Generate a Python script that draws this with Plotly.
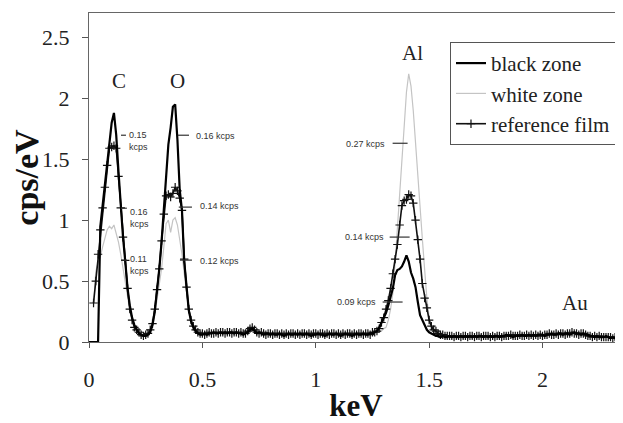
import numpy as np
import plotly.graph_objects as go

# Energy channels (keV), 0.01 keV per channel
energy_kev = np.round(np.arange(0, 237) * 0.01, 2)

black_zone = [
    0, 0, 0, 0, 0,
    0.95, 1.12, 1.30, 1.50, 1.68, 1.80, 1.88, 1.70, 1.40, 1.10,
    0.86, 0.66, 0.44, 0.30, 0.20, 0.14, 0.10, 0.07, 0.06, 0.05,
    0.05, 0.06, 0.08, 0.14, 0.25, 0.42, 0.60, 0.82, 1.08, 1.30,
    1.62, 1.76, 1.93, 1.95, 1.66, 1.25, 1.08, 0.66, 0.43, 0.26,
    0.17, 0.12, 0.09, 0.07, 0.06,
    0.06, 0.07, 0.06, 0.07, 0.07, 0.08, 0.07, 0.07, 0.08, 0.07,
    0.08, 0.07, 0.08, 0.08, 0.07, 0.08, 0.07, 0.07, 0.06, 0.07,
    0.08, 0.10, 0.11, 0.09, 0.07, 0.08, 0.07, 0.06, 0.07, 0.07,
    0.06, 0.07, 0.06, 0.06, 0.07, 0.06, 0.05, 0.06, 0.07, 0.06,
    0.06, 0.07, 0.06, 0.07, 0.06, 0.06, 0.07, 0.06, 0.05, 0.06,
    0.06, 0.07, 0.06, 0.06, 0.05, 0.06, 0.07, 0.06, 0.06, 0.07,
    0.06, 0.05, 0.06, 0.07, 0.06, 0.06, 0.05, 0.06, 0.07, 0.06,
    0.06, 0.07, 0.06, 0.06, 0.07, 0.07, 0.08,
    0.09, 0.12, 0.16, 0.20, 0.24, 0.30, 0.38, 0.44, 0.55, 0.59,
    0.60, 0.62, 0.66, 0.71, 0.66, 0.57, 0.52, 0.45, 0.33, 0.22,
    0.18, 0.14, 0.10, 0.08, 0.07, 0.06, 0.05,
    0.05, 0.04, 0.05, 0.04, 0.04, 0.05,
    0.04, 0.05, 0.04, 0.04, 0.05, 0.04, 0.05, 0.04, 0.05, 0.04,
    0.05, 0.04, 0.05, 0.05, 0.04, 0.05, 0.04, 0.05, 0.04, 0.05,
    0.05, 0.04, 0.05, 0.05, 0.06, 0.05, 0.05, 0.04, 0.05, 0.05,
    0.05, 0.06, 0.05, 0.05, 0.06, 0.05, 0.06, 0.05, 0.06, 0.06,
    0.06, 0.05, 0.06, 0.06, 0.07, 0.06, 0.06, 0.07, 0.07, 0.06,
    0.07, 0.07, 0.06, 0.07, 0.08, 0.07, 0.07, 0.06, 0.07, 0.06,
    0.06, 0.05, 0.05, 0.04, 0.05, 0.04, 0.04, 0.04, 0.05, 0.04,
    0.03, 0.04, 0.03, 0.04, 0.03, 0.03, 0.04,
]

white_zone = [
    None, None,
    0.30, 0.58, 0.65, 0.70, 0.78, 0.86, 0.92, 0.95,
    0.93, 0.96, 0.90, 0.82, 0.72, 0.60, 0.50, 0.38, 0.26, 0.17,
    0.11, 0.08, 0.06, 0.05, 0.05, 0.05, 0.06, 0.08, 0.13, 0.22,
    0.35, 0.48, 0.60, 0.78, 0.97, 1.00, 0.90, 1.00, 1.02, 0.96,
    0.85, 0.72, 0.56, 0.40, 0.26, 0.16, 0.11, 0.08, 0.07, 0.06,
    0.06, 0.07, 0.07, 0.06, 0.07, 0.08, 0.07, 0.07, 0.07, 0.08,
    0.07, 0.08, 0.07, 0.08, 0.07, 0.07, 0.08, 0.07, 0.07, 0.07,
    0.08, 0.10, 0.10, 0.09, 0.07, 0.07, 0.07, 0.06, 0.07, 0.06,
    0.07, 0.06, 0.06, 0.07, 0.06, 0.06, 0.06, 0.07, 0.06, 0.06,
    0.06, 0.06, 0.07, 0.06, 0.06, 0.07, 0.06, 0.06, 0.06, 0.07,
    0.06, 0.06, 0.07, 0.06, 0.06, 0.06, 0.07, 0.06, 0.06, 0.06,
    0.06, 0.06, 0.07, 0.06, 0.06, 0.06, 0.06, 0.07, 0.06, 0.06,
    0.06, 0.07, 0.06, 0.06, 0.07, 0.07, 0.07, 0.08, 0.08, 0.09,
    0.11, 0.12, 0.18, 0.27, 0.40, 0.65, 0.94, 1.20, 1.50, 1.78,
    2.05, 2.20, 2.10, 1.90, 1.62, 1.40, 1.13, 0.85, 0.60, 0.36,
    0.20, 0.12, 0.08, 0.06,
    0.05, 0.05, 0.04, 0.05, 0.04, 0.04,
    0.05, 0.04, 0.04, 0.05, 0.04, 0.05, 0.04, 0.05, 0.04, 0.04,
    0.05, 0.04, 0.04, 0.05, 0.05, 0.04, 0.05, 0.04, 0.05, 0.05,
    0.04, 0.05, 0.05, 0.04, 0.05, 0.06, 0.05, 0.05, 0.05, 0.04,
    0.05, 0.05, 0.06, 0.05, 0.06, 0.05, 0.05, 0.06, 0.05, 0.06,
    0.06, 0.06, 0.05, 0.06, 0.06, 0.07, 0.06, 0.07, 0.06, 0.07,
    0.07, 0.06, 0.07, 0.07, 0.07, 0.08, 0.06, 0.07, 0.06, 0.07,
    0.05, 0.06, 0.04, 0.05, 0.05, 0.04, 0.05, 0.04, 0.04, 0.05,
    0.04, 0.03, 0.04, 0.04, 0.03, 0.04, 0.03,
]

reference_film = [
    None, None,
    0.32, 0.50, 0.72, 0.92, 1.10, 1.27, 1.45, 1.59,
    1.60, 1.61, 1.59, 1.36, 1.10, 0.86, 0.67, 0.44, 0.27, 0.18,
    0.12, 0.10, 0.08, 0.06, 0.05, 0.06, 0.07, 0.10, 0.15, 0.27,
    0.43, 0.60, 0.83, 1.05, 1.20, 1.21, 1.19, 1.22, 1.27, 1.24,
    1.18, 1.08, 0.68, 0.45, 0.27, 0.18, 0.13, 0.10, 0.08, 0.07,
    0.07, 0.06, 0.07, 0.08, 0.07, 0.07, 0.08, 0.07, 0.08, 0.08,
    0.07, 0.08, 0.08, 0.07, 0.08, 0.08, 0.07, 0.08, 0.07, 0.07,
    0.09, 0.11, 0.12, 0.10, 0.08, 0.07, 0.08, 0.07, 0.06, 0.07,
    0.07, 0.06, 0.07, 0.07, 0.06, 0.07, 0.06, 0.07, 0.06, 0.07,
    0.07, 0.06, 0.07, 0.06, 0.07, 0.07, 0.06, 0.07, 0.06, 0.07,
    0.07, 0.06, 0.07, 0.07, 0.06, 0.07, 0.06, 0.07, 0.07, 0.06,
    0.07, 0.06, 0.07, 0.06, 0.07, 0.07, 0.06, 0.07, 0.06, 0.07,
    0.07, 0.06, 0.07, 0.07, 0.06, 0.08, 0.08,
    0.09, 0.11, 0.16, 0.20, 0.27, 0.34, 0.44, 0.56, 0.68, 0.80,
    0.96, 1.12, 1.16, 1.17, 1.21, 1.20, 1.14, 1.00, 0.84, 0.68,
    0.48, 0.36, 0.28, 0.18, 0.13, 0.10, 0.09,
    0.07, 0.06, 0.06, 0.05, 0.05, 0.05,
    0.05, 0.04, 0.05, 0.05, 0.04, 0.05, 0.05, 0.04, 0.05, 0.05,
    0.04, 0.05, 0.05, 0.04, 0.05, 0.05, 0.05, 0.04, 0.05, 0.04,
    0.05, 0.05, 0.04, 0.05, 0.05, 0.05, 0.06, 0.05, 0.05, 0.05,
    0.06, 0.05, 0.05, 0.06, 0.05, 0.06, 0.05, 0.06, 0.05, 0.06,
    0.05, 0.06, 0.06, 0.07, 0.06, 0.06, 0.07, 0.06, 0.07, 0.07,
    0.06, 0.07, 0.07, 0.08, 0.07, 0.07, 0.06, 0.07, 0.07, 0.06,
    0.05, 0.05, 0.04, 0.05, 0.04, 0.05, 0.04, 0.04, 0.04, 0.04,
    0.04, 0.03, 0.04, 0.03, 0.04, 0.03, 0.03,
]

assert len(black_zone) == len(energy_kev) == len(white_zone) == len(reference_film)

x_tick_vals = [0, 0.5, 1, 1.5, 2]
x_tick_text = ["0", "0.5", "1", "1.5", "2"]
y_tick_vals = [0, 0.5, 1, 1.5, 2, 2.5]
y_tick_text = ["0", "0.5", "1", "1.5", "2", "2.5"]

# element labels: (text, keV, cps/eV)
element_labels = [("C", 0.132, 2.14), ("O", 0.392, 2.14), ("Al", 1.427, 2.37), ("Au", 2.145, 0.32)]

# count-rate labels: (text, dash x0, dash x1, dash y, text x, text y, text anchor)
rate_labels = [
    ("0.15<br>kcps", 0.141, 0.163, 1.697, 0.167, 1.648, "left"),
    ("0.16<br>kcps", 0.141, 0.167, 1.098, 0.172, 1.016, "left"),
    ("0.11<br>kcps", 0.141, 0.167, 0.672, 0.172, 0.631, "left"),
    ("0.16 kcps", 0.392, 0.441, 1.697, 0.463, 1.689, "left"),
    ("0.14 kcps", 0.396, 0.454, 1.107, 0.480, 1.115, "left"),
    ("0.12 kcps", 0.401, 0.454, 0.672, 0.480, 0.664, "left"),
    ("0.27 kcps", 1.339, 1.405, 1.631, 1.313, 1.623, "right"),
    ("0.14 kcps", 1.326, 1.414, 0.861, 1.308, 0.861, "right"),
    ("0.09 kcps", 1.295, 1.383, 0.328, 1.273, 0.328, "right"),
]

SERIF = "Liberation Serif, Times New Roman, serif"
SANS = "Liberation Sans, Arial, sans-serif"

fig = go.Figure()
fig.add_trace(go.Scatter(
    x=energy_kev, y=white_zone, name="white zone", mode="lines",
    line=dict(color="#c4c4c4", width=1.2), legendrank=2, connectgaps=False))
fig.add_trace(go.Scatter(
    x=energy_kev, y=reference_film, name="reference film", mode="lines+markers",
    line=dict(color="#111", width=1.6),
    marker=dict(symbol="cross-thin", size=6, line=dict(color="#111", width=1.2)),
    legendrank=3))
fig.add_trace(go.Scatter(
    x=energy_kev, y=black_zone, name="black zone", mode="lines",
    line=dict(color="#000", width=2.2), legendrank=1))

annotations = []
for text, xk, yv in element_labels:
    annotations.append(dict(x=xk, y=yv, xref="x", yref="y", text=text, showarrow=False,
                            font=dict(family=SERIF, size=21, color="#222")))
shapes = []
for text, dx0, dx1, dy, tx, ty, anchor in rate_labels:
    shapes.append(dict(type="line", xref="x", yref="y", x0=dx0, x1=dx1, y0=dy, y1=dy,
                       line=dict(color="#333", width=1.2)))
    annotations.append(dict(x=tx, y=ty, xref="x", yref="y", text=text, showarrow=False,
                            xanchor=anchor, align="left",
                            font=dict(family=SANS, size=9, color="#333")))

# The page body adds an 8px offset, so the figure is sized to the remaining area.
fig.update_layout(
    width=615, height=415,
    margin=dict(l=81, r=0, t=5, b=81, autoexpand=False),
    paper_bgcolor="white", plot_bgcolor="white",
    annotations=annotations, shapes=shapes,
    legend=dict(x=0.676, y=0.912, xanchor="left", yanchor="top",
                bordercolor="#555", borderwidth=1, bgcolor="white",
                font=dict(family=SERIF, size=21, color="#222"),
                itemwidth=30, tracegroupgap=0),
    xaxis=dict(range=[0, 2.355], tickvals=x_tick_vals, ticktext=x_tick_text,
               ticks="outside", ticklen=5, tickcolor="#555",
               showline=True, linecolor="#666", linewidth=1.2, mirror=True,
               showgrid=False, zeroline=False, automargin=False,
               tickfont=dict(family=SERIF, size=22, color="#222"),
               ticklabelstandoff=12,
               title=dict(text="<b>keV</b>", font=dict(family=SERIF, size=31, color="#111"),
                          standoff=5)),
    yaxis=dict(range=[0, 2.7], tickvals=y_tick_vals, ticktext=y_tick_text,
               ticks="outside", ticklen=6, tickcolor="#555",
               showline=True, linecolor="#666", linewidth=1.2,
               showgrid=False, zeroline=False, automargin=False,
               tickfont=dict(family=SERIF, size=22, color="#222"),
               ticklabelstandoff=8,
               title=dict(text="<b>cps/eV</b>", font=dict(family=SERIF, size=34, color="#111"),
                          standoff=2)),
)

fig.write_html("out.html")
